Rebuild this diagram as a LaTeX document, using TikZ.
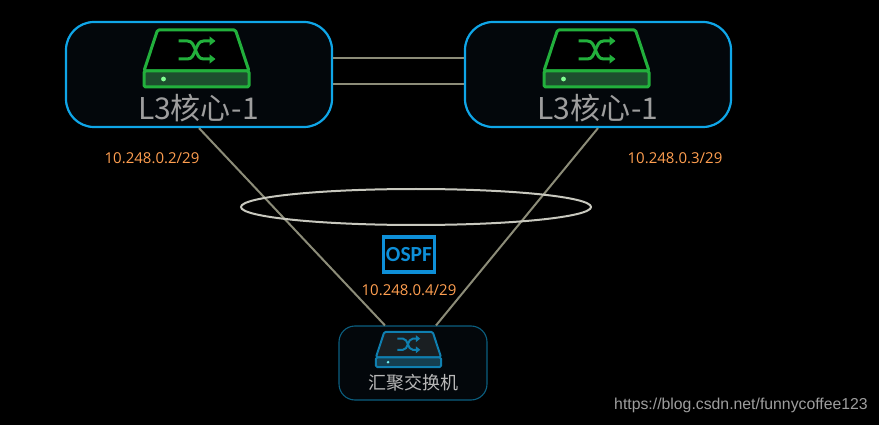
\documentclass[tikz,border=0pt]{standalone}
\usepackage{fontspec}
\setmainfont{Open Sans}
\newfontfamily\cjk{Noto Sans CJK SC}
\newfontfamily\wmfont{Liberation Sans}
\newfontfamily\badgefont{Carlito}
\usetikzlibrary{arrows.meta,calc,shapes.geometric}
\definecolor{boxblue}{HTML}{0FA6E8}
\definecolor{boxfill}{HTML}{03070B}
\definecolor{linkgray}{HTML}{8C8C78}
\definecolor{ringgray}{HTML}{C8C8BE}
\definecolor{ipor}{HTML}{FF9F50}
\definecolor{swgreen}{HTML}{22B03C}
\definecolor{swgreenb}{HTML}{1D4F2E}
\definecolor{swdot}{HTML}{80FF90}
\definecolor{swblue}{HTML}{0F7FB0}
\definecolor{swblueb}{HTML}{153F50}
\definecolor{swtop}{HTML}{1A1F22}
\definecolor{swdotb}{HTML}{70F0F0}
\definecolor{smallbox}{HTML}{0B5F80}
\definecolor{ospfblue}{HTML}{0E8FD8}
\tikzset{
  corebox/.style={draw=boxblue,fill=boxfill,line width=2.2pt,rounded corners=28pt,minimum width=266pt,minimum height=105pt,inner sep=0pt},
  accessbox/.style={draw=smallbox,fill=boxfill,line width=1.1pt,rounded corners=16pt,minimum width=148pt,minimum height=74pt,inner sep=0pt},
  link/.style={draw=linkgray,line width=2pt},
  iplabel/.style={text=ipor,font=\fontsize{15}{15}\selectfont,inner sep=0pt},
  corelabel/.style={text=white!62!black,font=\cjk\fontsize{30}{30}\selectfont,inner sep=0pt},
  switchicon/.pic={
    \path[fill=\swfill,draw=\swline,line width=\swlw,rounded corners=1.5pt,line join=round]
      (-39,-28.5) -- (39,-28.5) -- (52.5,12.5) -- (-52.5,12.5) -- cycle;
    \path[fill=\swband,draw=\swline,line width=\swlw,rounded corners=1.5pt,line join=round]
      (-52.5,12.5) -- (52.5,12.5) -- (52.5,28.5) -- (-52.5,28.5) -- cycle;
    \fill[\swspot] (-33,20.5) circle (2.4);
    \draw[\swline,line width=\swlw,-{Triangle[length=\swtip,width=1.5*\swtip]}]
      (-18,-17.5) -- (-9,-17.5) .. controls (0,-17.5) and (-2,0.5) .. (7,0.5) -- (19,0.5);
    \draw[\swline,line width=\swlw,-{Triangle[length=\swtip,width=1.5*\swtip]}]
      (-18,0.5) -- (-9,0.5) .. controls (0,0.5) and (-2,-17.5) .. (7,-17.5) -- (19,-17.5);
  }
}
% Colours and weights of the switch glyph, set per scope
\newcommand\swfill{black}\newcommand\swline{swgreen}\newcommand\swband{swgreenb}
\newcommand\swspot{swdot}\newcommand\swlw{3pt}\newcommand\swtip{6pt}
\begin{document}
\begin{tikzpicture}[x=1pt,y=-1pt]
\useasboundingbox[fill=black] (0,0) rectangle (879,425);

% Layer-3 core switches and the access switch
\node[corebox] (coreA) at (199,74.5) {};
\node[corebox] (coreB) at (598,74.5) {};
\node[accessbox] (access) at (413,363) {};

% Links between the switches
\coordinate (accessL) at ($(access.north)+(-28,0)$);
\coordinate (accessR) at ($(access.north)+(23,0)$);
\draw[link] (coreA.south) -- (accessL);
\draw[link] (coreB.south) -- (accessR);
\draw[link] ($(coreA.east)+(0,-16.5)$) -- ($(coreB.west)+(0,-16.5)$);
\draw[link] ($(coreA.east)+(0,9.5)$) -- ($(coreB.west)+(0,9.5)$);

% OSPF area ring
\node[draw=ringgray,line width=2pt,ellipse,minimum width=350pt,minimum height=36pt,inner sep=0pt] (ring) at (416,207) {};

% Switch glyphs
\pic at (196.5,58.5) {switchicon};
\pic at (596.5,58.5) {switchicon};
\begin{scope}
\renewcommand\swfill{swtop}\renewcommand\swline{swblue}\renewcommand\swband{swblueb}
\renewcommand\swspot{swdotb}\renewcommand\swlw{2pt}\renewcommand\swtip{4.5pt}
\pic[scale=.62] at (408.5,349.5) {switchicon};
\end{scope}

% Switch names
\node[corelabel] (nameA) at (198.5,108.5) {L3核心\kern1pt-1};
\node[corelabel] (nameB) at (598,108.5) {L3核心\kern1pt-1};
\node[text=white!72!black,font=\cjk\fontsize{18}{18}\selectfont,inner sep=0pt] (nameC) at (413.5,383) {汇聚交换机};

% Interface addresses
\node[iplabel] (ipA) at (152,158) {10.248.0.2/29};
\node[iplabel] (ipB) at (675,158) {10.248.0.3/29};
\node[iplabel] (ipC) at (409,290.5) {10.248.0.4/29};

% Protocol badge
\node[draw=ospfblue,line width=3.5pt,minimum width=51pt,minimum height=35pt,inner sep=0pt,text=ospfblue,font=\badgefont\bfseries\fontsize{21.5}{22}\selectfont] (ospf) at (409,254.5) {OSPF};

% Credit line
\node[text=white!62!black,font=\wmfont\fontsize{15.8}{16}\selectfont,inner sep=0pt] (credit) at (741,405) {https://blog.csdn.net/funnycoffee123};
\end{tikzpicture}
\end{document}
